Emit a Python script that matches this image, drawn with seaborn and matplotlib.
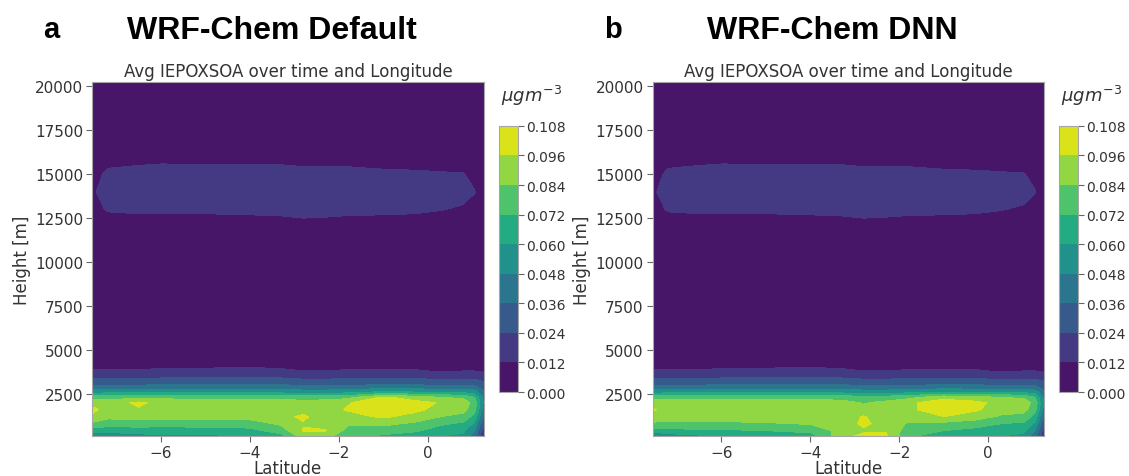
import numpy as np
import matplotlib
matplotlib.use("Agg")
import matplotlib.pyplot as plt
import seaborn as sns

# --- data: time / longitude mean IEPOXSOA (ug m-3) ---
latitudes = [-7.55, -7.2, -6.5, -6.0, -5.0, -4.0, -3.3, -2.8, -2.3, -1.8, -1.0, -0.3, 0.3, 0.8, 1.05, 1.26]

lower_heights = [100, 400, 800, 1200, 1600, 2000, 2300, 2600, 2900, 3200, 3500, 3800, 4200, 5000]
upper_heights = [8000, 12000, 13000, 14000, 15000, 16000, 18000, 20250]

# boundary layer profiles, one list per latitude (bottom -> top)
default_lower = [
    [0.045, 0.066, 0.082, 0.094, 0.099, 0.092, 0.078, 0.055, 0.039, 0.029, 0.020, 0.013, 0.008, 0.005],
    [0.052, 0.064, 0.078, 0.087, 0.092, 0.091, 0.079, 0.056, 0.039, 0.029, 0.020, 0.013, 0.008, 0.005],
    [0.056, 0.066, 0.078, 0.088, 0.095, 0.098, 0.080, 0.056, 0.039, 0.029, 0.020, 0.013, 0.008, 0.005],
    [0.058, 0.066, 0.077, 0.088, 0.093, 0.093, 0.080, 0.056, 0.040, 0.030, 0.021, 0.014, 0.008, 0.005],
    [0.058, 0.066, 0.078, 0.088, 0.092, 0.091, 0.080, 0.057, 0.040, 0.030, 0.021, 0.014, 0.009, 0.005],
    [0.060, 0.068, 0.079, 0.088, 0.092, 0.091, 0.080, 0.057, 0.041, 0.031, 0.022, 0.015, 0.009, 0.005],
    [0.068, 0.078, 0.086, 0.093, 0.091, 0.090, 0.079, 0.056, 0.040, 0.030, 0.021, 0.014, 0.008, 0.005],
    [0.090, 0.097, 0.095, 0.098, 0.091, 0.089, 0.078, 0.054, 0.038, 0.028, 0.019, 0.012, 0.007, 0.005],
    [0.088, 0.097, 0.090, 0.090, 0.092, 0.090, 0.078, 0.054, 0.038, 0.028, 0.019, 0.012, 0.007, 0.005],
    [0.076, 0.080, 0.086, 0.092, 0.097, 0.095, 0.080, 0.056, 0.039, 0.029, 0.020, 0.013, 0.008, 0.005],
    [0.070, 0.078, 0.087, 0.098, 0.103, 0.103, 0.098, 0.062, 0.040, 0.029, 0.020, 0.013, 0.008, 0.005],
    [0.066, 0.074, 0.082, 0.092, 0.099, 0.100, 0.090, 0.060, 0.040, 0.029, 0.020, 0.013, 0.008, 0.005],
    [0.060, 0.066, 0.074, 0.084, 0.092, 0.095, 0.084, 0.058, 0.039, 0.028, 0.017, 0.011, 0.007, 0.005],
    [0.058, 0.062, 0.070, 0.080, 0.088, 0.090, 0.082, 0.057, 0.039, 0.028, 0.018, 0.012, 0.007, 0.005],
    [0.040, 0.048, 0.058, 0.068, 0.076, 0.080, 0.072, 0.054, 0.038, 0.028, 0.019, 0.012, 0.007, 0.005],
    [0.012, 0.018, 0.026, 0.034, 0.042, 0.046, 0.044, 0.038, 0.030, 0.024, 0.017, 0.011, 0.007, 0.004],
]

dnn_lower = [
    [0.045, 0.066, 0.082, 0.092, 0.097, 0.092, 0.078, 0.055, 0.039, 0.029, 0.020, 0.013, 0.008, 0.005],
    [0.054, 0.068, 0.081, 0.089, 0.093, 0.092, 0.080, 0.056, 0.039, 0.029, 0.020, 0.013, 0.008, 0.005],
    [0.058, 0.070, 0.082, 0.090, 0.093, 0.092, 0.080, 0.056, 0.039, 0.029, 0.020, 0.013, 0.008, 0.005],
    [0.060, 0.070, 0.082, 0.089, 0.092, 0.092, 0.080, 0.056, 0.040, 0.030, 0.021, 0.014, 0.008, 0.005],
    [0.062, 0.072, 0.083, 0.089, 0.092, 0.091, 0.080, 0.057, 0.040, 0.030, 0.021, 0.014, 0.009, 0.005],
    [0.066, 0.076, 0.085, 0.089, 0.091, 0.090, 0.080, 0.057, 0.041, 0.031, 0.022, 0.015, 0.009, 0.005],
    [0.092, 0.088, 0.088, 0.090, 0.090, 0.088, 0.079, 0.056, 0.040, 0.030, 0.021, 0.014, 0.008, 0.005],
    [0.099, 0.094, 0.099, 0.097, 0.087, 0.083, 0.076, 0.054, 0.038, 0.028, 0.019, 0.012, 0.007, 0.005],
    [0.098, 0.095, 0.090, 0.088, 0.088, 0.087, 0.077, 0.054, 0.038, 0.028, 0.019, 0.012, 0.007, 0.005],
    [0.074, 0.078, 0.083, 0.089, 0.094, 0.094, 0.080, 0.056, 0.039, 0.029, 0.020, 0.013, 0.008, 0.005],
    [0.066, 0.072, 0.081, 0.096, 0.102, 0.102, 0.092, 0.060, 0.040, 0.029, 0.020, 0.013, 0.008, 0.005],
    [0.062, 0.068, 0.078, 0.090, 0.098, 0.099, 0.088, 0.058, 0.040, 0.029, 0.020, 0.013, 0.008, 0.005],
    [0.060, 0.064, 0.072, 0.082, 0.090, 0.092, 0.084, 0.058, 0.039, 0.028, 0.017, 0.011, 0.007, 0.005],
    [0.058, 0.062, 0.070, 0.080, 0.088, 0.090, 0.082, 0.057, 0.039, 0.028, 0.018, 0.012, 0.007, 0.005],
    [0.040, 0.048, 0.058, 0.068, 0.076, 0.080, 0.072, 0.054, 0.038, 0.028, 0.019, 0.012, 0.007, 0.005],
    [0.012, 0.018, 0.026, 0.034, 0.042, 0.046, 0.044, 0.038, 0.030, 0.024, 0.017, 0.011, 0.007, 0.004],
]

# upper troposphere, one list per latitude (8000 m -> top), same in both runs
upper_profiles = [
    [0.004, 0.005, 0.008, 0.0105, 0.008, 0.004, 0.003, 0.002],
    [0.005, 0.006, 0.013, 0.016, 0.014, 0.008, 0.003, 0.002],
    [0.005, 0.006, 0.014, 0.017, 0.015, 0.009, 0.003, 0.002],
    [0.005, 0.006, 0.014, 0.017, 0.0155, 0.0095, 0.003, 0.002],
    [0.005, 0.006, 0.014, 0.017, 0.016, 0.009, 0.003, 0.002],
    [0.005, 0.0065, 0.0145, 0.017, 0.0155, 0.009, 0.003, 0.002],
    [0.005, 0.007, 0.015, 0.017, 0.0155, 0.009, 0.003, 0.002],
    [0.005, 0.0075, 0.0165, 0.017, 0.015, 0.008, 0.003, 0.002],
    [0.005, 0.007, 0.016, 0.017, 0.015, 0.008, 0.003, 0.002],
    [0.005, 0.0065, 0.015, 0.017, 0.015, 0.008, 0.003, 0.002],
    [0.005, 0.0065, 0.0145, 0.017, 0.014, 0.007, 0.003, 0.002],
    [0.005, 0.006, 0.014, 0.017, 0.0135, 0.007, 0.003, 0.002],
    [0.005, 0.005, 0.0125, 0.017, 0.013, 0.006, 0.003, 0.002],
    [0.004, 0.004, 0.0105, 0.016, 0.0125, 0.006, 0.003, 0.002],
    [0.004, 0.004, 0.008, 0.0125, 0.009, 0.005, 0.003, 0.002],
    [0.003, 0.003, 0.005, 0.007, 0.005, 0.003, 0.002, 0.002],
]

levels = np.arange(0, 0.1081, 0.012)
panels = [("a", "WRF-Chem Default", default_lower), ("b", "WRF-Chem DNN", dnn_lower)]

# --- style ---
sns.set_style("ticks", {"axes.edgecolor": "0.65", "xtick.color": "0.4", "ytick.color": "0.4"})
plt.rcParams["font.family"] = ["DejaVu Sans"]

heights = np.array(lower_heights + upper_heights)
lats = np.array(latitudes)
cmap = sns.color_palette("viridis", as_cmap=True)

fig = plt.figure(figsize=(11.29, 4.77), dpi=100)

ax_pos = [[0.0815, 0.084, 0.347, 0.742], [0.578, 0.084, 0.347, 0.742]]
cax_pos = [[0.442, 0.176, 0.0165, 0.558], [0.938, 0.176, 0.0165, 0.558]]

for i, (letter, name, lower) in enumerate(panels):
    profiles = [lo + up for lo, up in zip(lower, upper_profiles)]
    field = np.array(profiles).T  # (height, latitude)
    ax = fig.add_axes(ax_pos[i])
    cs = ax.contourf(lats, heights, field, levels=levels, cmap=cmap)
    ax.set_xticks([-6, -4, -2, 0])
    ax.set_yticks(np.arange(2500, 20001, 2500))
    ax.tick_params(labelsize=11, labelcolor="0.2", length=4, pad=2.5)
    ax.set_xlabel("Latitude", fontsize=12, color="0.2", labelpad=-1)
    ax.set_ylabel("Height [m]", fontsize=12, color="0.2", labelpad=3)
    ax.set_title("Avg IEPOXSOA over time and Longitude", fontsize=12, color="0.2", pad=4)

    cax = fig.add_axes(cax_pos[i])
    cb = fig.colorbar(cs, cax=cax, ticks=levels)
    cb.ax.set_yticklabels([f"{v:.3f}" for v in levels])
    cb.ax.tick_params(labelsize=10, labelcolor="0.2", length=4, pad=2)
    cb.outline.set_edgecolor("0.65")
    cax.text(0.1, 1.07, r"$\mu g m^{-3}$", transform=cax.transAxes, fontsize=13,
             color="0.2", ha="left", va="bottom")

    x0 = ax_pos[i][0]
    fig.text(x0 - 0.043, 0.938, letter, fontsize=21, fontweight="bold", color="black",
             family=["Liberation Sans", "DejaVu Sans"], ha="left", va="center")
    fig.text(x0 + 0.1595, 0.935, name, fontsize=23, fontweight="bold", color="black",
             family=["Liberation Sans", "DejaVu Sans"], ha="center", va="center")

plt.savefig("out.png", dpi=100)
